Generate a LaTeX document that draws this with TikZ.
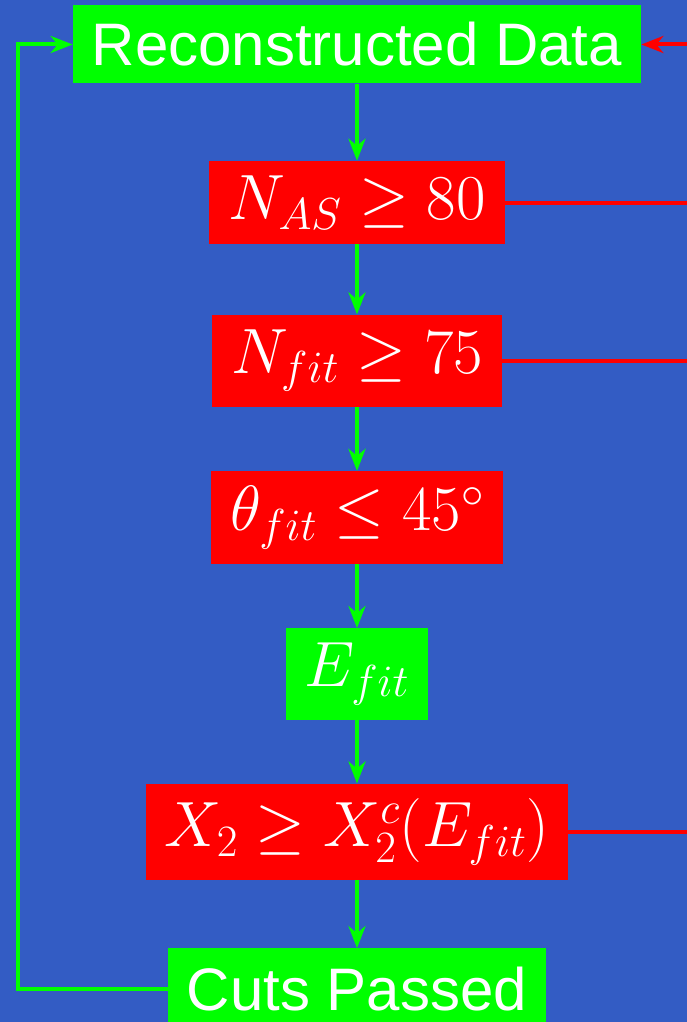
\RequirePackage{fix-cm}
\documentclass[tikz,border=0pt]{standalone}
\usepackage[no-math]{fontspec}
\newfontfamily\labelfont{Liberation Sans}
\usetikzlibrary{arrows.meta,positioning}
\definecolor{backblue}{RGB}{51,92,196}
\definecolor{passgreen}{RGB}{0,255,0}
\definecolor{cutred}{RGB}{255,0,0}

\begin{document}
\begin{tikzpicture}[x=1pt,y=-1pt,
  box/.style={text=white,inner xsep=19pt,inner ysep=15pt,font=\fontsize{64}{76}\selectfont},
  stage/.style={box,fill=passgreen,inner ysep=0pt,minimum height=78pt,font=\labelfont\fontsize{60}{72}\selectfont},
  cut/.style={box,fill=cutred},
  flow/.style={-{Stealth[length=22pt,width=17pt,inset=7pt]},line width=4pt,draw=passgreen},
  reject/.style={line width=4pt,draw=cutred}
]
\fill[backblue] (0,0) rectangle (687,1022);
\useasboundingbox (0,0) rectangle (687,1022);
\coordinate (rim) at (687,0);
\coordinate (loop) at (18,0);

\node[stage] (recon) at (357,44.5) {Reconstructed Data};
\node[cut,below=77pt of recon] (nas) {$N_{AS} \geq 80$};
\node[cut,below=70pt of nas] (nfit) {$N_{fit} \geq 75$};
\node[cut,below=64pt of nfit] (theta) {$\theta_{fit} \leq 45^\circ$};
\node[box,fill=passgreen,below=64pt of theta] (efit) {$E_{fit}$};
\node[cut,below=63pt of efit] (chi) {$X_2 \geq X_2^c(E_{fit})$};
\node[stage,minimum height=82pt,below=68pt of chi] (cuts) {Cuts Passed};

\draw[flow] (recon) -- (nas);
\draw[flow] (nas) -- (nfit);
\draw[flow] (nfit) -- (theta);
\draw[flow] (theta) -- (efit);
\draw[flow] (efit) -- (chi);
\draw[flow] (chi) -- (cuts);
\draw[flow] (cuts.west) -- (cuts.west -| loop) |- (recon.west);

\draw[reject] (nas.east) -- (nas.east -| rim);
\draw[reject] (nfit.east) -- (nfit.east -| rim);
\draw[reject] (chi.east) -- (chi.east -| rim);
\draw[reject,-{Stealth[length=22pt,width=17pt,inset=7pt]}] (recon.east -| rim) -- (recon.east);
\end{tikzpicture}
\end{document}
